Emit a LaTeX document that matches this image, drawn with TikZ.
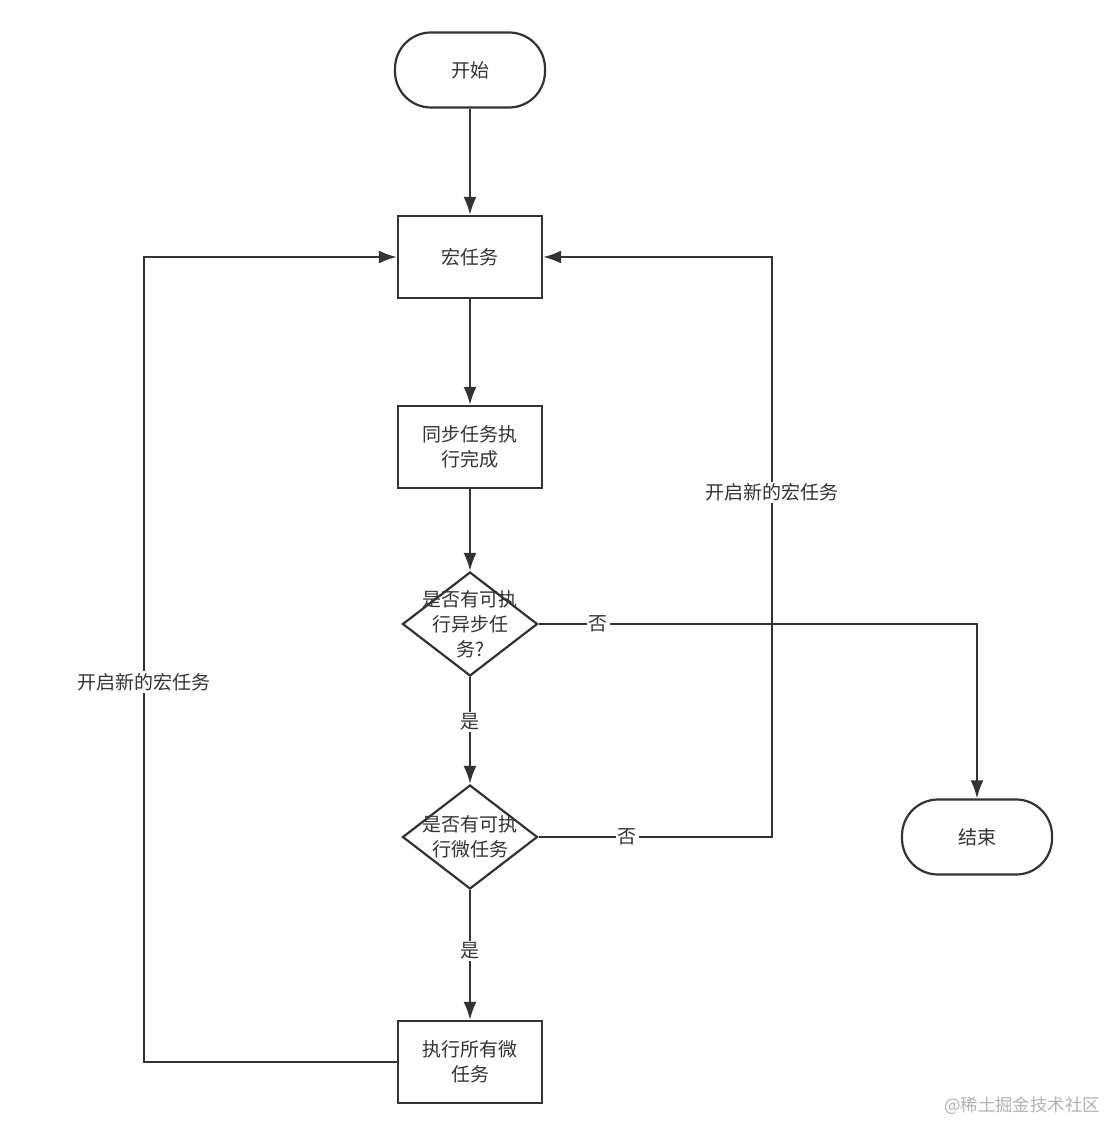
\documentclass[tikz,border=0pt]{standalone}
\usepackage{fontspec}
\newfontfamily\cjk{Noto Sans CJK SC}
\usetikzlibrary{shapes.geometric,arrows.meta}
\definecolor{linegray}{HTML}{333333}

\begin{document}
\begin{tikzpicture}[x=0.5pt,y=-0.5pt,
		every node/.style={font=\cjk\fontsize{9.5}{12.5}\selectfont, text=linegray},
		terminal/.style={draw=linegray, line width=1.1pt, rounded corners=18pt, minimum width=75pt, minimum height=37.5pt},
		process/.style={draw=linegray, line width=1.1pt, minimum width=72pt, minimum height=41pt, align=center},
		decision/.style={diamond, draw=linegray, line width=1.1pt, minimum width=67.5pt, minimum height=52pt, inner sep=0pt},
		dtext/.style={align=center},
		flow/.style={draw=linegray, line width=1.1pt, -{Latex[length=9pt,width=6.5pt]}},
		lbl/.style={fill=white, inner sep=1pt}]
			\fill[white] (0,0) rectangle (1108,1122);
			\useasboundingbox (0,0) rectangle (1108,1122);
			% main column
			\node[terminal] (start) at (470,70) {开始};
			\node[process] (macro) at (470,257) {宏任务};
			\node[process] (sync) at (470,447) {同步任务执\\行完成};
			\node[decision, label={[dtext]center:{是否有可执\\行异步任\\务?}}] (q1) at (470,624) {};
			\node[decision, label={[dtext]center:{是否有可执\\行微任务}}] (q2) at (470,837) {};
			\node[process] (micro) at (470,1062) {执行所有微\\任务};
			\node[terminal] (end) at (977,837) {结束};
			\coordinate (rturn) at (772,837);
			\coordinate (lturn) at (144,1062);
			% connectors
			\draw[flow] (start) -- (macro);
			\draw[flow] (macro) -- (sync);
			\draw[flow] (sync) -- (q1);
			\draw[flow] (q1) -- node[lbl, pos=0.42] {是} (q2);
			\draw[flow] (q2) -- node[lbl, pos=0.47] {是} (micro);
			\draw[flow] (q1.east) -| node[lbl, pos=0.068] {否} (end);
			\draw[flow] (q2.east) -- node[lbl, pos=0.38] {否} (rturn) |- node[lbl, pos=0.297] {开启新的宏任务} (macro.east);
			\draw[flow] (micro.west) -- (lturn) |- node[lbl, pos=0.236] {开启新的宏任务} (macro.west);
			% watermark
			\node[text=black!30, font=\cjk\fontsize{8.7}{11}\selectfont] (mark) at (1022,1106) {@稀土掘金技术社区};
		\end{tikzpicture}
\end{document}
